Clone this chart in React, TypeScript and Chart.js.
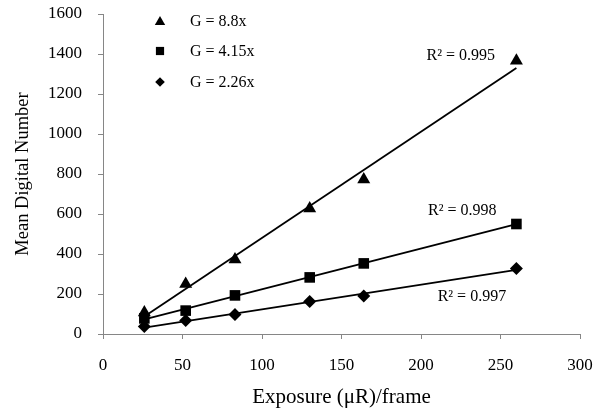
import React, { useEffect, useRef } from "react";
import { Chart, registerables } from "chart.js";

Chart.register(...registerables);

const exposure = [26, 52, 83, 130, 164, 260];
const gain88 = [107, 250, 373, 628, 773, 1366];
const gain415 = [78, 117, 193, 283, 353, 550];
const gain226 = [37, 67, 97, 162, 190, 328];

const seriesLabels = ["G = 8.8x", "G = 4.15x", "G = 2.26x"];
const trendX = [26, 260];
const trend88 = [88, 1330];
const trend415 = [73, 549];
const trend226 = [32, 321];
const rSquaredLabels = ["R² = 0.995", "R² = 0.998", "R² = 0.997"];
const rSquaredAnchorX = [225, 226, 232];
const rSquaredAnchorY = [1390, 615, 185];

const yTicks = [0, 200, 400, 600, 800, 1000, 1200, 1400, 1600];
const xTicks = [0, 50, 100, 150, 200, 250, 300];

const FONT = "'Liberation Serif', 'Times New Roman', serif";
const AXIS_GREY = "#868686";

function pts(xs: number[], ys: number[]) {
  return xs.map((x, i) => ({ x, y: ys[i] }));
}

function drawMarker(ctx: CanvasRenderingContext2D, style: string, x: number, y: number, r: number) {
  ctx.beginPath();
  if (style === "triangle") {
    ctx.moveTo(x, y - r);
    ctx.lineTo(x + r * Math.sin(Math.PI / 3), y + r / 2);
    ctx.lineTo(x - r * Math.sin(Math.PI / 3), y + r / 2);
  } else if (style === "rect") {
    ctx.rect(x - r * Math.SQRT1_2, y - r * Math.SQRT1_2, 2 * r * Math.SQRT1_2, 2 * r * Math.SQRT1_2);
  } else {
    ctx.moveTo(x - r, y);
    ctx.lineTo(x, y - r);
    ctx.lineTo(x + r, y);
    ctx.lineTo(x, y + r);
  }
  ctx.closePath();
  ctx.fillStyle = "#000";
  ctx.fill();
}

const legendPlugin = {
  id: "customLegend",
  afterDraw(chart: any) {
    const ctx = chart.ctx as CanvasRenderingContext2D;
    const { left, top } = chart.chartArea;
    const styles = ["triangle", "rect", "rectRot"];
    const radii = [6, 5.8, 4.8];
    const rowsY = [7, 37, 68];
    ctx.save();
    ctx.font = `16px ${FONT}`;
    ctx.textBaseline = "middle";
    ctx.textAlign = "left";
    ctx.fillStyle = "#000";
    seriesLabels.forEach((lab, i) => {
      const y = top + rowsY[i];
      drawMarker(ctx, styles[i], left + 57, y + (i === 0 ? 1 : 0), radii[i]);
      ctx.fillStyle = "#000";
      ctx.fillText(lab, left + 87, y + 1);
    });
    const xs = chart.scales.x;
    const ys = chart.scales.y;
    ctx.font = `16px ${FONT}`;
    ctx.textAlign = "center";
    rSquaredLabels.forEach((t, i) => {
      ctx.fillText(t, xs.getPixelForValue(rSquaredAnchorX[i]), ys.getPixelForValue(rSquaredAnchorY[i]));
    });
    ctx.restore();
  },
};

function clearPadding(s: any) {
  s.paddingTop = 0;
  s.paddingBottom = 0;
  s.paddingLeft = 0;
  s.paddingRight = 0;
}

export default function App() {
  const ref = useRef<HTMLCanvasElement>(null);
  useEffect(() => {
    if (!ref.current) return;
    const trendStyle = {
      type: "line" as const,
      borderColor: "#000",
      borderWidth: 1.8,
      pointRadius: 0,
      showLine: true,
      fill: false,
    };
    const chart = new Chart(ref.current, {
      type: "scatter",
      data: {
        datasets: [
          { ...trendStyle, label: "t1", data: pts(trendX, trend88) },
          { ...trendStyle, label: "t2", data: pts(trendX, trend415) },
          { ...trendStyle, label: "t3", data: pts(trendX, trend226) },
          {
            label: seriesLabels[0],
            data: pts(exposure, gain88),
            pointStyle: "triangle",
            pointRadius: 7.5,
            backgroundColor: "#000",
            borderColor: "#000",
            borderWidth: 0,
          },
          {
            label: seriesLabels[1],
            data: pts(exposure, gain415),
            pointStyle: "rect",
            pointRadius: 7.5,
            backgroundColor: "#000",
            borderColor: "#000",
            borderWidth: 0,
          },
          {
            label: seriesLabels[2],
            data: pts(exposure, gain226),
            pointStyle: "rectRot",
            pointRadius: 6.5,
            backgroundColor: "#000",
            borderColor: "#000",
            borderWidth: 0,
          },
        ],
      },
      options: {
        animation: false,
        responsive: true,
        maintainAspectRatio: false,
        layout: { padding: { top: 14, right: 20, left: 0, bottom: 0 } },
        plugins: {
          legend: { display: false },
          tooltip: { enabled: false },
        },
        scales: {
          x: {
            type: "linear",
            min: 0,
            max: 300,
            afterBuildTicks: (s: any) => {
              s.ticks = xTicks.map((v) => ({ value: v }));
            },
            afterFit: (s: any) => {
              s.height = 74;
              clearPadding(s);
            },
            ticks: {
              color: "#000",
              font: { family: FONT, size: 17 },
              padding: 16,
              maxRotation: 0,
              callback: (v: any) => String(v),
            },
            grid: {
              drawOnChartArea: false,
              drawTicks: true,
              tickLength: 5,
              color: AXIS_GREY,
            },
            border: { color: AXIS_GREY, width: 1 },
            title: {
              display: true,
              text: "Exposure (μR)/frame",
              color: "#000",
              font: { family: FONT, size: 21 },
              padding: { top: 0, bottom: -2 },
            },
          },
          y: {
            type: "linear",
            min: 0,
            max: 1600,
            afterBuildTicks: (s: any) => {
              s.ticks = yTicks.map((v) => ({ value: v }));
            },
            afterFit: (s: any) => {
              s.width = 103;
              clearPadding(s);
            },
            ticks: {
              color: "#000",
              font: { family: FONT, size: 17 },
              padding: 16,
              callback: (v: any) => String(v),
            },
            grid: {
              drawOnChartArea: false,
              drawTicks: true,
              tickLength: 5,
              color: AXIS_GREY,
            },
            border: { color: AXIS_GREY, width: 1 },
            title: {
              display: true,
              text: "Mean Digital Number",
              color: "#000",
              font: { family: FONT, size: 18.5 },
              padding: { top: 12, bottom: 0 },
            },
          },
        },
      },
      plugins: [legendPlugin],
    });
    return () => chart.destroy();
  }, []);

  return (
    <div style={{ position: "fixed", left: 0, top: 0, width: 600, height: 408, background: "#fff" }}>
      <canvas ref={ref} />
    </div>
  );
}
